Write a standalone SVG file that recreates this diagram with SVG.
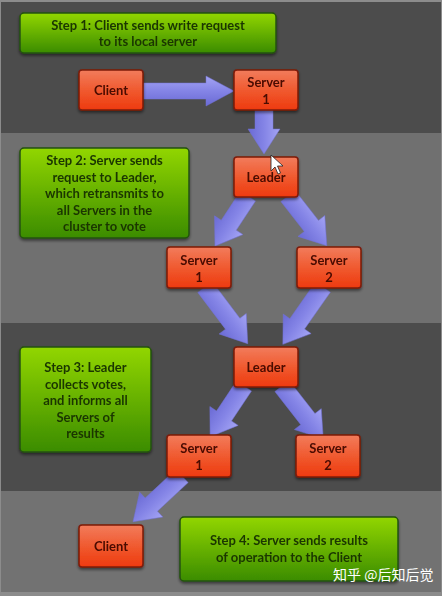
<svg xmlns="http://www.w3.org/2000/svg" width="442" height="596" viewBox="0 0 442 596">
<defs>
<linearGradient id="gGreen" x1="0" y1="0" x2="0" y2="1">
<stop offset="0" stop-color="#92d606"/>
<stop offset="1" stop-color="#3b8c04"/>
</linearGradient>
<linearGradient id="gRed" x1="0" y1="0" x2="0" y2="1">
<stop offset="0" stop-color="#f27c5c"/>
<stop offset="0.5" stop-color="#f05a30"/>
<stop offset="1" stop-color="#ee3a0e"/>
</linearGradient>
<linearGradient id="gArrow" x1="0" y1="0" x2="0" y2="1">
<stop offset="0" stop-color="#a4a4f4"/>
<stop offset="0.5" stop-color="#8484e6"/>
<stop offset="1" stop-color="#6a6ad4"/>
</linearGradient>
<filter id="shadow" x="-20%" y="-20%" width="140%" height="150%">
<feGaussianBlur in="SourceAlpha" stdDeviation="1.5"/>
<feOffset dx="0" dy="2" result="b"/>
<feComponentTransfer><feFuncA type="linear" slope="0.5"/></feComponentTransfer>
<feMerge><feMergeNode/><feMergeNode in="SourceGraphic"/></feMerge>
</filter>
</defs>
<style>
.step rect{fill:url(#gGreen);stroke:#24520a;stroke-width:1.5}
.step text{font-family:Lato,"Open Sans","DejaVu Sans",sans-serif;font-weight:bold;font-size:13px;fill:#1a3605;text-anchor:middle}
.node rect{fill:url(#gRed);stroke:#7e1a08;stroke-width:1.5}
.node text{font-family:Lato,"Open Sans","DejaVu Sans",sans-serif;font-weight:bold;font-size:13px;fill:#4a0a02;text-anchor:middle}
.arrow{fill:url(#gArrow);stroke:#7272d8;stroke-width:0.8;stroke-opacity:0.6}
.wm{font-family:"Noto Sans CJK SC","Noto Sans",sans-serif;font-size:14px;fill:#ffffff}
</style>
<g id="background">
<rect x="0" y="0" width="442" height="596" fill="#8c8c8c"/>
<rect x="1" y="2" width="440" height="131" fill="#4c4c4c"/>
<rect x="1" y="133" width="440" height="190" fill="#707070"/>
<rect x="1" y="323" width="440" height="168" fill="#4c4c4c"/>
<rect x="1" y="491" width="440" height="101" fill="#727272"/>
</g>
<g id="connectors">
<polygon class="arrow" transform="translate(143,91)" points="0,-8 63,-8 63,-15 91,0 63,15 63,8 0,8"/>
<polygon class="arrow" transform="translate(264,108) rotate(90)" points="0,-9 21,-9 21,-16 46,0 21,16 21,9 0,9"/>
<polygon class="arrow" transform="translate(248,196) rotate(123.4)" points="0,-9 35,-9 35,-17 60,0 35,17 35,9 0,9"/>
<polygon class="arrow" transform="translate(288,196) rotate(52)" points="0,-9 38,-9 38,-17 63,0 38,17 38,9 0,9"/>
<polygon class="arrow" transform="translate(205,287) rotate(53)" points="0,-9 46,-9 46,-17 71,0 46,17 46,9 0,9"/>
<polygon class="arrow" transform="translate(323,287) rotate(125)" points="0,-9 45,-9 45,-17 70,0 45,17 45,9 0,9"/>
<polygon class="arrow" transform="translate(244,386) rotate(123.7)" points="0,-9 36,-9 36,-17 61,0 36,17 36,9 0,9"/>
<polygon class="arrow" transform="translate(282,386) rotate(52)" points="0,-9 42,-9 42,-17 67,0 42,17 42,9 0,9"/>
<polygon class="arrow" transform="translate(182,476) rotate(137)" points="0,-9 42,-9 42,-17 67,0 42,17 42,9 0,9"/>
</g>
<g id="step1" class="step" filter="url(#shadow)">
<rect x="20" y="13" width="256" height="40" rx="4"/>
<text x="148" y="30">Step 1: Client sends write request</text>
<text x="148" y="46">to its local server</text>
</g>
<g id="step2" class="step" filter="url(#shadow)">
<rect x="20" y="148" width="169" height="90" rx="4"/>
<text x="104.5" y="165">Step 2: Server sends</text>
<text x="104.5" y="181.5">request to Leader,</text>
<text x="104.5" y="198">which retransmits to</text>
<text x="104.5" y="214.5">all Servers in the</text>
<text x="104.5" y="231">cluster to vote</text>
</g>
<g id="step3" class="step" filter="url(#shadow)">
<rect x="20" y="347" width="131" height="105" rx="4"/>
<text x="85.5" y="372">Step 3: Leader</text>
<text x="85.5" y="388.5">collects votes,</text>
<text x="85.5" y="405">and informs all</text>
<text x="85.5" y="421.5">Servers of</text>
<text x="85.5" y="438">results</text>
</g>
<g id="step4" class="step" filter="url(#shadow)">
<rect x="180" y="517" width="218" height="64" rx="4"/>
<text x="289" y="545">Step 4: Server sends results</text>
<text x="289" y="562">of operation to the Client</text>
</g>
<g id="client-top" class="node" filter="url(#shadow)">
<rect x="79" y="70" width="64" height="40" rx="3"/>
<text x="111" y="95">Client</text>
</g>
<g id="server1-top" class="node" filter="url(#shadow)">
<rect x="234" y="70" width="64" height="40" rx="3"/>
<text x="266" y="87">Server</text>
<text x="266" y="104">1</text>
</g>
<g id="leader-a" class="node" filter="url(#shadow)">
<rect x="234" y="157" width="64" height="40" rx="3"/>
<text x="266" y="182">Leader</text>
</g>
<g id="server1-a" class="node" filter="url(#shadow)">
<rect x="167" y="247" width="64" height="41" rx="3"/>
<text x="199" y="265">Server</text>
<text x="199" y="282">1</text>
</g>
<g id="server2-a" class="node" filter="url(#shadow)">
<rect x="297" y="247" width="64" height="41" rx="3"/>
<text x="329" y="265">Server</text>
<text x="329" y="282">2</text>
</g>
<g id="leader-b" class="node" filter="url(#shadow)">
<rect x="234" y="347" width="64" height="40" rx="3"/>
<text x="266" y="372">Leader</text>
</g>
<g id="server1-b" class="node" filter="url(#shadow)">
<rect x="167" y="435" width="64" height="42" rx="3"/>
<text x="199" y="453">Server</text>
<text x="199" y="470">1</text>
</g>
<g id="server2-b" class="node" filter="url(#shadow)">
<rect x="296" y="435" width="64" height="42" rx="3"/>
<text x="328" y="453">Server</text>
<text x="328" y="470">2</text>
</g>
<g id="client-bottom" class="node" filter="url(#shadow)">
<rect x="79" y="525" width="64" height="42" rx="3"/>
<text x="111" y="551">Client</text>
</g>
<g id="cursor">
<path d="M271,155 L271,171 L275,167 L278,174 L280.5,173 L277.5,166 L283,166 Z" fill="#ffffff" stroke="#222222" stroke-width="0.8"/>
</g>
<text class="wm" x="333" y="580">知乎 @后知后觉</text>
</svg>
